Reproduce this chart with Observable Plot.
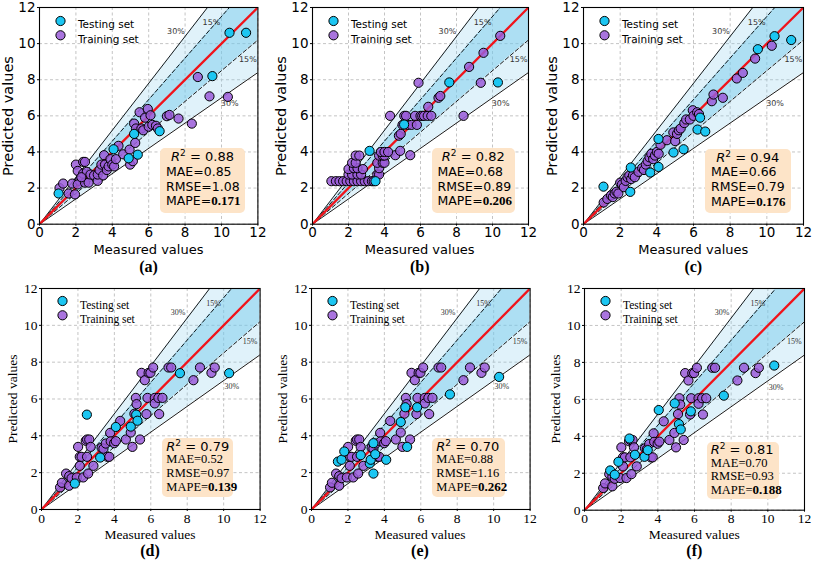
<!DOCTYPE html>
<html><head><meta charset="utf-8">
<script src="https://cdn.jsdelivr.net/npm/d3@7"></script>
<script src="https://cdn.jsdelivr.net/npm/@observablehq/plot@0.6"></script>
<style>
body{margin:0;background:#fff;}
#fig{position:relative;width:813px;height:561px;overflow:hidden;background:#fff;}
.box{position:absolute;background:#fde4c8;border-radius:5px;box-sizing:border-box;color:#000;}
.box div{white-space:nowrap;}
.cap{position:absolute;transform:translate(-50%,-50%);font-family:"Liberation Serif",serif;font-weight:bold;font-size:16px;line-height:1;white-space:nowrap;}
.xl{position:absolute;transform:translate(-50%,-50%);white-space:nowrap;line-height:1;}
.yl{position:absolute;transform:translate(-50%,-50%) rotate(-90deg);white-space:nowrap;line-height:1;}
</style>
</head><body><div id="fig"></div>
<script>
// ---- data (measured, predicted) ----
const aTest = [[1.05,1.7],[4.07,4.15],[4.9,3.65],[5.4,3.85],[5.2,5.0],[6.6,5.15],[9.5,8.2],[10.44,10.6],[11.35,10.6]];
const aTrain = [[1.1,2.0],[1.3,2.25],[1.6,1.7],[1.8,2.25],[1.95,1.65],[2.0,3.3],[2.1,2.95],[2.2,2.4],[2.1,2.2],[2.4,3.45],[2.5,3.45],[2.4,2.8],[2.5,2.3],[2.6,2.9],[2.7,2.3],[2.8,2.75],[2.3,2.6],[3.0,2.7],[3.2,2.4],[3.2,2.75],[3.3,3.0],[3.4,3.3],[3.55,3.82],[3.5,2.7],[3.6,3.3],[3.7,3.0],[3.8,3.2],[3.9,3.6],[4.0,3.3],[4.1,3.2],[4.2,3.6],[4.34,4.34],[4.6,3.87],[4.95,4.13],[4.98,3.3],[5.13,3.49],[5.26,4.5],[5.2,5.57],[5.3,5.3],[5.5,6.2],[5.6,5.3],[5.7,5.2],[5.8,5.9],[5.95,6.38],[6.0,5.4],[6.1,6.03],[6.2,5.5],[6.4,5.45],[6.5,5.3],[7.0,5.98],[7.14,6.05],[7.64,5.85],[8.37,5.57],[8.7,8.15],[9.34,7.08],[10.35,7.05]];

const bTest = [[3.17,4.06],[3.5,2.38],[5.09,5.52],[7.6,7.85],[10.3,7.85]];
const bTrain = [[1.05,2.38],[1.3,2.38],[1.5,2.38],[1.7,2.38],[1.9,2.38],[2.1,2.38],[2.3,2.38],[2.5,2.38],[2.7,2.38],[2.9,2.38],[3.1,2.38],[3.3,2.38],[3.4,2.38],[2.0,2.75],[2.2,2.75],[2.5,2.75],[2.7,2.75],[3.6,2.75],[3.7,2.75],[2.0,3.05],[2.3,3.1],[2.5,3.1],[2.8,3.05],[3.7,3.1],[2.2,3.4],[2.4,3.4],[3.6,3.4],[3.9,3.4],[4.0,3.4],[2.4,3.8],[2.6,3.8],[3.7,3.8],[3.9,3.8],[4.0,3.8],[4.6,3.82],[5.43,3.82],[3.8,4.0],[4.0,4.0],[4.2,4.0],[4.87,4.06],[4.31,6.0],[4.8,4.9],[4.9,5.0],[5.0,5.5],[5.1,6.0],[5.2,6.0],[5.3,5.5],[5.5,5.5],[5.7,6.0],[5.8,5.5],[5.89,7.83],[6.0,6.0],[6.1,6.0],[6.2,6.0],[6.4,6.0],[6.43,6.5],[6.6,6.0],[7.0,7.0],[7.1,7.1],[8.39,6.0],[8.7,8.71],[9.35,7.83],[9.5,9.49],[10.43,10.43]];

const cTest = [[1.09,2.08],[2.58,3.14],[2.55,1.79],[3.64,2.86],[4.09,3.17],[4.09,4.72],[4.91,3.97],[5.46,4.15],[6.22,5.24],[6.36,5.9],[6.64,5.13],[9.51,9.69],[10.42,10.41],[11.33,10.2]];
const cTrain = [[1.1,1.2],[1.3,1.4],[1.5,1.6],[1.6,1.5],[1.7,1.7],[1.8,1.8],[1.9,1.7],[2.0,2.3],[2.1,2.2],[2.2,2.05],[2.3,2.4],[2.4,2.6],[2.5,2.7],[2.6,2.5],[2.7,2.7],[2.8,2.6],[3.0,2.9],[3.2,3.1],[3.3,3.0],[3.4,3.3],[3.5,3.5],[3.6,3.7],[3.7,3.9],[3.8,3.6],[3.9,3.8],[4.0,4.0],[4.1,3.9],[4.2,4.4],[4.55,4.65],[4.9,5.08],[5.0,4.6],[5.1,5.0],[5.2,5.2],[5.3,5.3],[5.5,5.6],[5.6,5.8],[5.8,5.8],[5.96,6.31],[6.0,6.0],[6.2,6.2],[6.3,6.1],[7.0,6.81],[7.09,7.18],[7.6,7.0],[8.36,8.07],[8.69,8.38],[9.36,9.17],[10.27,9.88]];

// training set shared by panels d, e, f
const defTrain = [[1.02,1.2],[1.12,1.45],[1.35,1.95],[1.52,1.81],[1.52,1.29],[1.65,1.7],[1.94,1.74],[2.01,3.4],[2.1,2.86],[2.1,2.37],[2.2,2.86],[2.29,1.74],[2.43,3.73],[2.5,3.8],[2.5,2.86],[2.56,1.95],[2.62,3.8],[2.7,3.4],[2.85,2.37],[3.3,3.35],[3.4,3.3],[3.53,3.58],[3.62,2.86],[3.72,2.86],[3.77,4.16],[3.8,3.7],[3.99,3.6],[4.08,3.71],[4.32,4.81],[4.63,3.8],[4.9,4.18],[4.99,3.4],[5.1,5.2],[5.18,6.06],[5.22,5.72],[5.41,3.8],[5.49,7.42],[5.67,7.02],[5.82,6.06],[5.76,5.18],[5.88,7.42],[5.98,7.42],[6.13,7.71],[6.22,6.06],[6.22,5.76],[6.42,6.06],[6.46,5.18],[6.64,6.06],[6.97,7.71],[7.12,7.71],[8.34,7.02],[8.7,7.71],[9.33,7.42],[9.51,7.71]];
const dTest = [[1.83,1.41],[2.49,5.15],[3.22,2.82],[4.08,4.48],[4.9,4.5],[5.2,5.15],[5.27,4.82],[7.6,7.4],[10.3,7.4]];
const eTest = [[1.45,2.6],[1.65,2.7],[1.8,3.15],[2.7,2.95],[3.2,2.5],[3.25,2.7],[3.4,1.95],[3.4,3.6],[3.5,3.0],[4.1,2.7],[4.9,4.75],[5.15,5.55],[5.25,3.4],[5.8,5.55],[7.6,6.25],[10.3,7.2]];
const fTest = [[1.4,2.15],[1.65,1.92],[1.85,2.62],[2.45,3.88],[2.75,3.0],[3.27,2.89],[3.45,3.25],[4.05,5.42],[4.92,5.78],[5.15,4.66],[5.25,4.37],[5.8,5.35],[7.6,6.2],[10.35,7.83]];

const panelLetters = ["a","b","c","d","e","f"];
const r2Values = ["0.88","0.82","0.94","0.79","0.70","0.81"];
const maeValues = ["0.85","0.68","0.66","0.52","0.88","0.70"];
const rmseValues = ["1.08","0.89","0.79","0.97","1.16","0.93"];
const mapeValues = ["0.171","0.206","0.176","0.139","0.262","0.188"];
const tickValues = [0,2,4,6,8,10,12];
const bandRatios = [0.7, 0.85, 1.15, 1.3];
const pctLabels = [{x:7.5,y:10.7,t:"30%"},{x:9.45,y:11.17,t:"15%"},{x:11.45,y:9.15,t:"15%"},{x:10.45,y:6.67,t:"30%"}];
const legendNames = ["Testing set","Training set"];
const xLabel = "Measured values", yLabel = "Predicted values";

// ---- layout ----
const testFill = "#1cc6f2", trainFill = "#9a5cd8";
const frames = [
  {L:39.3,R:257.7,T:7.3,B:224, box:[160,148,245,213]},
  {L:311.7,R:527.7,T:7.3,B:224, box:[431.5,148,515,213]},
  {L:583.3,R:803.3,T:7.3,B:224, box:[705,148.5,790.5,213]},
  {L:40.7,R:259.3,T:288.3,B:509.3, box:[162.3,438.3,233.3,496.7]},
  {L:310.7,R:529.3,T:288.3,B:509.3, box:[432.3,438.3,505,496.7]},
  {L:584.3,R:804.3,T:288.3,B:510, box:[706.7,441.7,779.3,499]}
];
const sets = [[aTest,aTrain],[bTest,bTrain],[cTest,cTrain],[dTest,defTrain],[eTest,defTrain],[fTest,defTrain]];
const fig = document.getElementById("fig");
const lineX = [0, 12];

frames.forEach((f, i) => {
  const top = i < 3;
  const fam = top ? "DejaVu Sans, sans-serif" : "Liberation Serif, serif";
  const [test, train] = sets[i];
  const mL = 40, mT = 8, mR = 8, mB = 40;
  const W = f.R - f.L, H = f.B - f.T;
  const svg = Plot.plot({
    width: W + mL + mR, height: H + mT + mB,
    marginLeft: mL, marginTop: mT, marginRight: mR, marginBottom: mB,
    x: {domain: [0, 12]}, y: {domain: [0, 12]},
    style: {fontFamily: fam, fontSize: "13.5px", background: "transparent", color: "black", overflow: "visible"},
    marks: [
      Plot.gridX(tickValues, {stroke: "#c4c4c4", strokeOpacity: 1, strokeDasharray: "3,2.5"}),
      Plot.gridY(tickValues, {stroke: "#c4c4c4", strokeOpacity: 1, strokeDasharray: "3,2.5"}),
      Plot.areaY(lineX, {x: d => d, y1: d => bandRatios[0]*d, y2: d => bandRatios[3]*d, fill: "#87ceeb", fillOpacity: 0.26, clip: true}),
      Plot.areaY(lineX, {x: d => d, y1: d => bandRatios[1]*d, y2: d => bandRatios[2]*d, fill: "#6fc8ea", fillOpacity: 0.45, clip: true}),
      ...bandRatios.map(k => Plot.line(lineX, {x: d => d, y: d => k*d, stroke: "black", strokeWidth: 0.9,
        strokeDasharray: (k === 0.85 || k === 1.15) ? "4,2.5" : null, clip: true})),
      Plot.line(lineX, {x: d => d, y: d => d, stroke: "#f0141b", strokeWidth: 2.3, clip: true}),
      Plot.text(pctLabels, {x: "x", y: "y", text: "t", fontSize: 8, fill: "#333", fontFamily: fam}),
      Plot.dot(train, {x: d => d[0], y: d => d[1], r: 4.6, fill: trainFill, fillOpacity: 0.85, stroke: "black", strokeWidth: 1}),
      Plot.dot(test, {x: d => d[0], y: d => d[1], r: 4.6, fill: testFill, stroke: "black", strokeWidth: 1}),
      Plot.dot([0], {frameAnchor: "top-left", dx: 21, dy: top ? 13.5 : 12.5, r: 4.6, fill: testFill, stroke: "black", strokeWidth: 1}),
      Plot.dot([0], {frameAnchor: "top-left", dx: 21, dy: top ? 27.8 : 26.8, r: 4.6, fill: trainFill, fillOpacity: 0.85, stroke: "black", strokeWidth: 1}),
      Plot.text([legendNames[0]], {frameAnchor: "top-left", dx: 38.5, dy: top ? 13.5 : 12.5, text: d => d, textAnchor: "start", fontSize: top ? 10.5 : 11.5, fontFamily: fam}),
      Plot.text([legendNames[1]], {frameAnchor: "top-left", dx: 38.5, dy: top ? 27.8 : 26.8, text: d => d, textAnchor: "start", fontSize: top ? 10.5 : 11.5, fontFamily: fam}),
      Plot.frame({stroke: "black", strokeWidth: 1.1}),
      Plot.axisX({ticks: tickValues, tickSize: 2, tickPadding: 1.5, label: null}),
      Plot.axisY({ticks: tickValues, tickSize: 2, tickPadding: 2, label: null})
    ]
  });
  svg.style.position = "absolute";
  svg.style.left = (f.L - mL) + "px";
  svg.style.top = (f.T - mT) + "px";
  fig.appendChild(svg);

  // axis labels
  const cx = (f.L + f.R) / 2, cy = (f.T + f.B) / 2;
  const xl = document.createElement("div");
  xl.className = "xl"; xl.textContent = xLabel;
  xl.style.left = cx + "px"; xl.style.top = (f.B + 25.2) + "px";
  xl.style.fontFamily = fam; xl.style.fontSize = top ? "13px" : "13.5px";
  fig.appendChild(xl);
  const yl = document.createElement("div");
  yl.className = "yl"; yl.textContent = yLabel;
  yl.style.left = (f.L - (top ? 31 : 28)) + "px"; yl.style.top = cy + "px";
  yl.style.fontFamily = fam; yl.style.fontSize = top ? "14.5px" : "13.5px";
  fig.appendChild(yl);

  // caption
  const cap = document.createElement("div");
  cap.className = "cap"; cap.textContent = "(" + panelLetters[i] + ")";
  cap.style.left = cx + "px"; cap.style.top = (top ? 267 : 550.6) + "px";
  fig.appendChild(cap);

  // metrics box
  const [bx0, by0, bx1, by1] = f.box;
  const box = document.createElement("div");
  box.className = "box";
  box.style.left = bx0 + "px"; box.style.top = by0 + "px";
  box.style.width = (bx1 - bx0) + "px"; box.style.height = (by1 - by0) + "px";
  const lh = top ? 14.8 : 13.4;
  box.style.padding = (top ? "2px 0 0 6px" : "1.5px 0 0 4px");
  box.style.lineHeight = lh + "px";
  const serif = "Liberation Serif, serif";
  const bodyFam = top ? "DejaVu Sans, sans-serif" : serif;
  const bodySize = "12.5px";
  box.innerHTML =
    `<div style="text-align:center;padding-right:6px;font-family:DejaVu Sans,sans-serif;font-size:13px"><span style="font-style:italic">R</span><sup style="font-size:9px;line-height:0">2</sup> = ${r2Values[i]}</div>` +
    `<div style="font-family:${bodyFam};font-size:${bodySize}">MAE=${maeValues[i]}</div>` +
    `<div style="font-family:${bodyFam};font-size:${bodySize}">RMSE=${rmseValues[i]}</div>` +
    `<div style="font-family:${bodyFam};font-size:${bodySize}">MAPE=<span style="font-family:${serif};font-weight:bold;font-size:13px">${mapeValues[i]}</span></div>`;
  fig.appendChild(box);
});
</script>
</body></html>
